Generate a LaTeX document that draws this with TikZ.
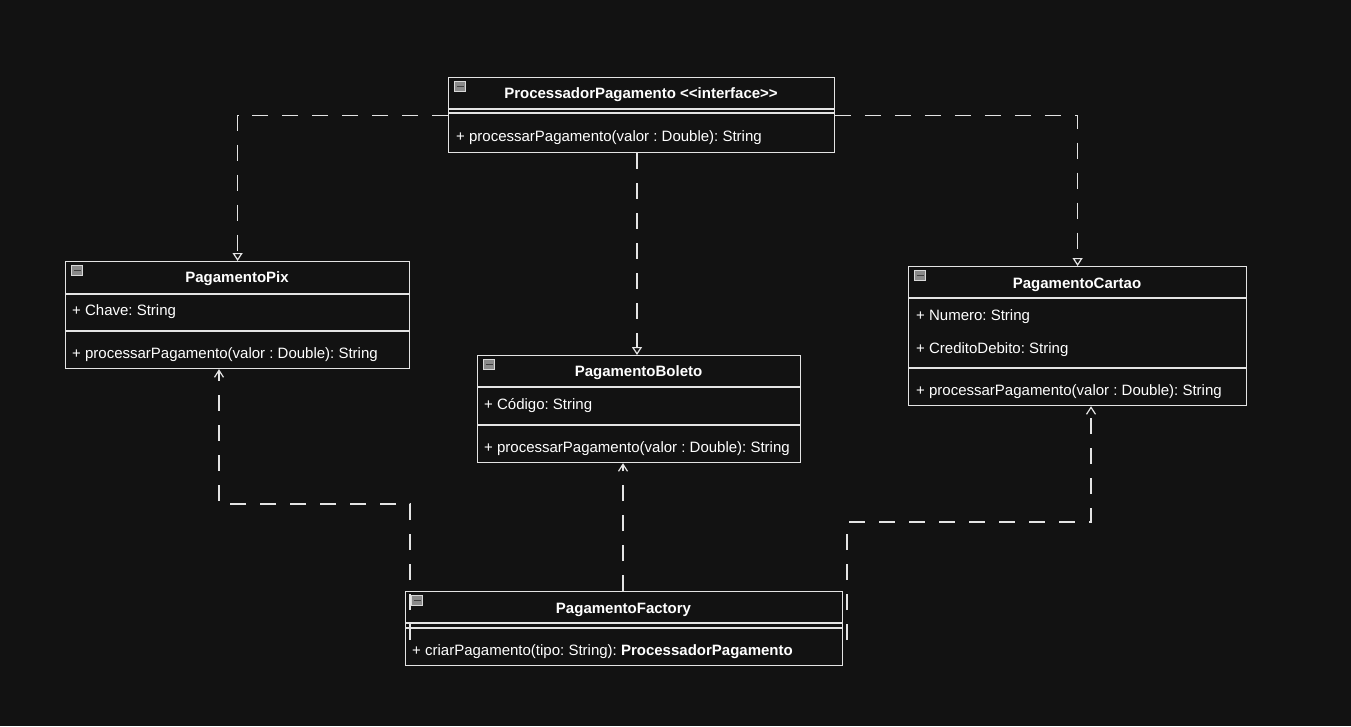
\documentclass[tikz,border=0pt]{standalone}
\usepackage{fontspec}
\setmainfont{Liberation Sans}
\usetikzlibrary{arrows.meta}
\definecolor{bgcol}{HTML}{121212}
\definecolor{linecol}{HTML}{E4E4E4}
\definecolor{iconcol}{HTML}{8A8A8A}
\newcommand{\umlsize}{\fontsize{15}{18}\selectfont\frenchspacing}
\tikzset{
  classbox/.style={draw=linecol, line width=1.2pt, anchor=north west, inner sep=0pt},
  cname/.style={font=\umlsize\bfseries, text=white, inner sep=0pt, yshift=-2pt},
  member/.style={font=\umlsize, anchor=west, text=white, inner sep=0pt, yshift=-2pt},
  sep/.style={draw=linecol, line width=1.2pt},
  dep/.style={draw=linecol, line width=1.2pt, dash pattern=on 16pt off 14pt, -{Straight Barb[length=7pt,width=9pt]}},
  impl/.style={draw=linecol, line width=1.2pt, dash pattern=on 16pt off 14pt, -{Triangle[open,length=8pt,width=10pt,fill=bgcol]}}
}

\begin{document}
\begin{tikzpicture}[x=1pt,y=-1pt]
  \fill[bgcol] (0,0) rectangle (1351,726);
  \useasboundingbox (0,0) rectangle (1351,726);

  % class boxes
  \node[classbox, minimum width=386, minimum height=75](proc)  at (448,77) {};
  \node[classbox, minimum width=344, minimum height=107](pix)  at (65,261) {};
  \node[classbox, minimum width=323, minimum height=107](boleto)  at (477,355) {};
  \node[classbox, minimum width=338, minimum height=139](cartao)  at (908,266) {};
  \node[classbox, minimum width=437, minimum height=74](factory)  at (405,591) {};

  % collapse icons
  \foreach \b in {proc,pix,boleto,cartao,factory}{
    \draw[draw=gray!30, fill=iconcol, line width=0.9pt] ([xshift=6.5pt,yshift=-4.5pt]\b.north west) rectangle ++(11,10);
    \draw[draw=black!75, line width=1.5pt] ([xshift=8.5pt,yshift=-9.5pt]\b.north west) -- ++(7,0);
  }

  % ProcessadorPagamento
  \node[cname](procname) at (641,93) {ProcessadorPagamento <\kern0pt<interface>\kern0pt>};
  \draw[sep] (proc.west |- 0,109) -- (proc.east |- 0,109);
  \draw[sep] (proc.west |- 0,113) -- (proc.east |- 0,113);
  \node[member](procm) at (456,136) {+ processarPagamento(valor : Double): String};

  % PagamentoPix
  \node[cname](pixname) at (237,277) {PagamentoPix};
  \draw[sep] (pix.west |- 0,294) -- (pix.east |- 0,294);
  \node[member](pixa) at (72,310) {+ Chave: String};
  \draw[sep] (pix.west |- 0,331) -- (pix.east |- 0,331);
  \node[member](pixm) at (72,353) {+ processarPagamento(valor : Double): String};

  % PagamentoBoleto
  \node[cname](boletoname) at (638.5,371) {PagamentoBoleto};
  \draw[sep] (boleto.west |- 0,387) -- (boleto.east |- 0,387);
  \node[member](boletoa) at (484,404) {+ Código: String};
  \draw[sep] (boleto.west |- 0,425) -- (boleto.east |- 0,425);
  \node[member](boletom) at (484,447) {+ processarPagamento(valor : Double): String};

  % PagamentoCartao
  \node[cname](cartaoname) at (1077,283) {PagamentoCartao};
  \draw[sep] (cartao.west |- 0,298) -- (cartao.east |- 0,298);
  \node[member](cartaoa) at (916,315) {+ Numero: String};
  \node[member](cartaob) at (916,348) {+ CreditoDebito: String};
  \draw[sep] (cartao.west |- 0,368) -- (cartao.east |- 0,368);
  \node[member](cartaom) at (916,390) {+ processarPagamento(valor : Double): String};

  % PagamentoFactory
  \node[cname](factoryname) at (623.5,608) {PagamentoFactory};
  \draw[sep] (factory.west |- 0,623) -- (factory.east |- 0,623);
  \draw[sep] (factory.west |- 0,628) -- (factory.east |- 0,628);
  \node[member](factorym) at (412,650) {+ criarPagamento(tipo: String): \textbf{ProcessadorPagamento}};

  % realizations
  \draw[impl] (proc.west) -| (pix.north);
  \draw[impl] (proc.east) -| (cartao.north);
  \draw[impl] (proc.south -| 637,0) -- (boleto.north -| 637,0);

  % dependencies
  \coordinate (fromL) at (410,640);
  \coordinate (bendL) at (219,504);
  \coordinate (fromR) at (847,640);
  \coordinate (bendR) at (1091,522);
  \draw[dep] (factory.north -| 623,0) -- (boleto.south -| 623,0);
  \draw[dep] (fromL) |- (bendL) -- (bendL |- pix.south);
  \draw[dep] (fromR) |- (bendR) -- (bendR |- cartao.south);
\end{tikzpicture}
\end{document}
